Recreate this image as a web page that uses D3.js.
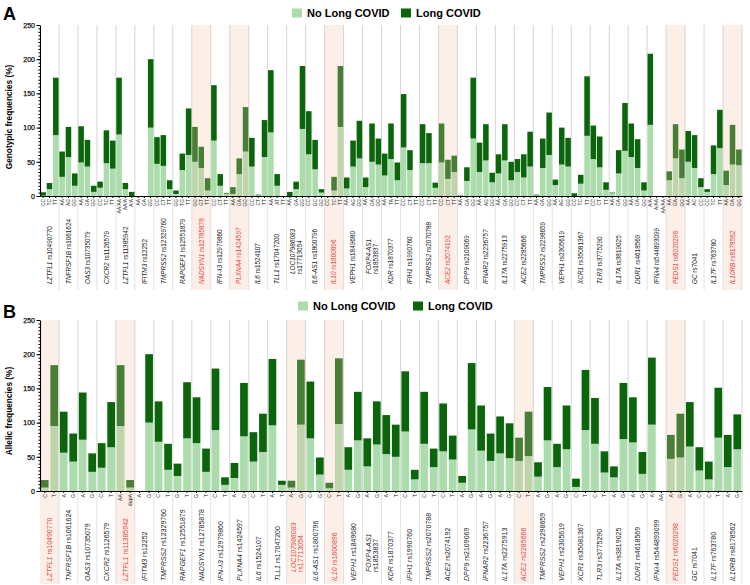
<!DOCTYPE html>
<html>
<head>
<meta charset="utf-8">
<script src="https://cdn.jsdelivr.net/npm/d3@7"></script>
<style>
  body { margin: 0; background: #fff; }
  text { font-family: "Liberation Sans", Arial, sans-serif; }
</style>
</head>
<body>
<svg id="chart" width="750" height="585"></svg>
<script>
// genes / SNPs on the x axis
const genes = ["LZTFL1","TNFRSF1B","OAS3","CXCR2","LZTFL1","IFITM3","TMPRSS2","RAPGEF1","NADSYN1","IFN-λ3",
  "PLXNA4","IL6","TLL1","LOC107986083","IL6-AS1","IL10","VEPH1","FOXP4-AS1","KDR","IFIH1",
  "TMPRSS2","ACE2","DPP9","IFNAR2","IL17A","ACE2","TMPRSS2","VEPH1","XCR1","TLR3",
  "IL17A","DDR1","IFNλ4","PEDS1","GC","IL17F","IL10RB"];
const snps = ["rs10490770","rs1061624","rs10735079","rs1126579","rs11385942","rs12252","rs12329760","rs12551879","rs12785878","rs12979860",
  "rs1424597","rs1524107","rs17047200","rs17713054","rs1800796","rs1800896","rs1849680","rs1853837","rs1870377","rs1990760",
  "rs2070788","rs2074192","rs2109069","rs2236757","rs2275913","rs2285666","rs2298659","rs2305619","rs35081367","rs3775290",
  "rs3819025","rs4618569","rs544893099","rs6020298","rs7041","rs763780","rs8178562"];
const twoLine = [13, 17];
const yTicks = [0, 50, 100, 150, 200, 250];

// panel A - genotypes
const genotypes = [["CC","TC","TT"],["AA","AG","GG"],["AA","GA","GG"],["CC","TC","TT"],["AA/AA","AA/A","A/A"],
  ["AA","GA","GG"],["CC","CT","TT"],["GG","TG","TT"],["GG","GT","TT"],["CC","CT","TT"],
  ["AA","GA","GG"],["CC","CT","TT"],["AA","AT","TT"],["AA","GA","GG"],["CC","GC","GG"],
  ["CC","TC","TT"],["AA","AG","GG"],["AA","GA","GG"],["AA","TA","TT"],["CC","CT","TT"],
  ["CC","CT","TT"],["CC","CT","TT"],["AA","GA","GG"],["AA","AG","GG"],["AA","GA","GG"],
  ["CC","CT","TT"],["AA","GA","GG"],["AA","AG","GG"],["CC","TC","TT"],["CC","CT","TT"],
  ["AA","GA","GG"],["AA","GA","GG"],["A/A","A/AA","AA/AA"],["AA","GA","GG"],["AA","AC","CC"],
  ["CC","TC","TT"],["AA","GA","GG"]];
const genoNoLong = [[0.5,10,89],[28,57,15],[49,43,6],[12,48,40],[90,10,0],[0,0,100],[47,44,10],[3,38,60],[50,41,8],[81,15,3],
  [3,32,65],[43,1,57],[93,15,0],[0,10,98],[61,39,5],[0,8,101],[11,43,55],[13,50,46],[30,54,23],[71,38,0],
  [48,48,12],[49,25,35],[1,22,84],[35,52,20],[33,52,23],[35,27,43],[1,41,60],[16,46,43],[0,18,88],[54,42,9],
  [4,33,66],[57,41,8],[104,0,0],[23,55,26],[50,41,13],[6,32,70],[16,46,45]];
const genoLong = [[5,9,84],[37,44,18],[53,39,9],[9,48,41],[83,9,6],[0,0,100],[39,45,13],[5,24,68],[51,31,18],[81,17,1],
  [10,23,65],[42,1,54],[91,17,0],[6,11,92],[63,43,5],[0,20,89],[16,38,55],[14,56,38],[32,52,26],[78,29,0],
  [57,44,7.5],[57,28,24],[0.5,20,89],[43,53,14],[28,53,27],[19,34,51],[1,43,62],[8,54,42],[4,13,87],[49,45,11],
  [1,34,70],[49,42,12],[104,0,0],[13,50,42],[45,48,13],[4,42,56],[21,58,23]];
const highlightA = [8, 10, 15, 21, 33, 36];

// panel B - alleles
const alleles = [["C","T"],["A","G"],["A","G"],["C","T"],["AA","dupA"],["A","G"],["C","T"],["G","T"],["G","T"],["C","T"],
  ["A","G"],["C","T"],["A","T"],["A","G"],["C","G"],["C","T"],["A","G"],["A","G"],["A","T"],["C","T"],
  ["C","T"],["C","T"],["A","G"],["A","G"],["A","G"],["C","T"],["A","G"],["A","G"],["C","T"],["C","T"],
  ["A","G"],["A","G"],["A","AA"],["A","G"],["A","C"],["C","T"],["A","G"]];
const alleleNoLong = [[5,95],[56,43],[75,28],[34,64],[95,5],[0,100],[72,31],[22,77],[70,28],[89,9],
  [19,80],[43,57],[96,9],[5,97],[77,24],[4,98],[31,74],[36,68],[54,50],[87,17],
  [69,35],[58,46],[12,90],[59,44],[55,48],[44,51],[21,74],[35,61],[6,89],[69,27],
  [20,76],[71,25],[97,0],[47,49],[65,30],[17,78],[35,61]];
const alleleLong = [[11,89],[60,41],[69,27],[36,66],[89,11],[0,100],[59,38],[18,82],[67,34],[90,11],
  [22,78],[43,56],[97,6],[10,95],[83,25],[8,96],[33,71],[41,63],[57,47],[88,14],
  [76,27],[70,35],[10,97],[66,40],[54,51],[34,65],[21,78],[34,64],[12,88],[67,31],
  [16,82],[66,32],[98,0],[35,64],[65,34],[26,73],[47,51]];
const highlightB = [0, 4, 13, 15, 25, 33];

const light = "#abdcab", dark = "#0b650b", red = "#e8423a";
const x0 = 40, x1 = 742;
const svg = d3.select("#chart");
const yScales = [];

function drawPanel(p) {
  const recs = [];
  genes.forEach((g, i) => p.cats[i].forEach((c, j) =>
    recs.push({ key: i + "_" + j, gi: i, cat: c, nl: p.noLong[i][j], l: p.long[i][j] })));

  const xG = d3.scaleBand().domain(d3.range(genes.length)).range([x0, x1]);
  const xB = d3.scaleBand().domain(recs.map(d => d.key)).range([x0, x1]);
  const y = d3.scaleLinear().domain([0, 250]).range([p.base, p.top]);
  yScales.push(y);
  const g = svg.append("g");

  // vertical separators, plot + label area
  g.selectAll(".grid").data(d3.range(1, genes.length + 1)).join("line")
    .attr("x1", d => xG(d - 1) + xG.bandwidth()).attr("x2", d => xG(d - 1) + xG.bandwidth())
    .attr("y1", p.top).attr("y2", p.base)
    .attr("stroke", "#cccccc").attr("stroke-width", 0.8);
  g.selectAll(".sep").data(d3.range(1, genes.length + 1)).join("line")
    .attr("x1", d => xG(d - 1) + xG.bandwidth()).attr("x2", d => xG(d - 1) + xG.bandwidth())
    .attr("y1", p.base + 1).attr("y2", p.labBottom)
    .attr("stroke", "#d6d6d6").attr("stroke-width", 0.7);

  // stacked bars
  const series = d3.stack().keys(["nl", "l"])(recs);
  const gap = p.gap;
  g.selectAll(".ser").data(series).join("g")
    .attr("fill", (d, i) => i === 0 ? light : dark)
    .selectAll("rect").data(d => d).join("rect")
    .attr("x", d => xB(d.data.key) + gap / 2)
    .attr("width", xB.bandwidth() - gap)
    .attr("y", d => y(d[1]))
    .attr("height", d => y(d[0]) - y(d[1]));

  // highlight bands
  g.selectAll(".hl").data(p.hl).join("rect")
    .attr("x", d => xG(d)).attr("width", xG.bandwidth())
    .attr("y", p.top).attr("height", p.labBottom - p.top)
    .attr("fill", "rgba(240,196,170,0.27)");

  // x axis
  const ax = g.append("g").attr("transform", `translate(0,${p.base})`)
    .call(d3.axisBottom(xB).tickSize(2).tickSizeOuter(0).tickFormat(k => recs.find(r => r.key === k).cat));
  ax.select(".domain").attr("stroke-width", 1.2);
  ax.selectAll("text")
    .attr("transform", "rotate(-90)")
    .attr("text-anchor", "end")
    .attr("x", -3).attr("y", 0).attr("dy", "0.35em")
    .attr("font-size", p.tickFont).attr("fill", "#222");

  // y axis minor ticks (every 5)
  const ay = g.append("g").attr("transform", `translate(${x0},0)`)
    .call(d3.axisLeft(y).tickValues(d3.range(0, 251, 5)).tickSize(1.6).tickSizeOuter(0).tickFormat(""));
  ay.select(".domain").attr("stroke-width", 1.1);
  ay.selectAll(".tick text").remove();

  // gene labels
  const lab = g.selectAll(".gene").data(genes).join("g")
    .attr("transform", (d, i) => `translate(${xG(i) + xG.bandwidth() / 2},${twoLine.includes(i) ? p.labY2 : p.labY}) rotate(-90)`);
  lab.each(function (d, i) {
    const col = p.hl.includes(i) ? red : "#222";
    const s = d3.select(this);
    if (twoLine.includes(i)) {
      s.append("text").attr("y", -3).attr("dy", "0.35em").attr("fill", col)
        .style("font-size", p.labFont + "px").style("font-style", "italic").text(d);
      s.append("text").attr("y", 4).attr("dy", "0.35em").attr("fill", col)
        .style("font-size", p.labFont + "px").text(snps[i]);
    } else {
      const t = s.append("text").attr("dy", "0.35em").attr("fill", col).style("font-size", p.labFont + "px");
      t.append("tspan").style("font-style", "italic").text(d);
      t.append("tspan").text(" " + snps[i]);
    }
  });

  // titles
  svg.append("text").attr("x", 3).attr("y", p.letterY).text(p.letter)
    .style("font-size", "18px").style("font-weight", "bold");
  svg.append("text").attr("transform", `translate(12,${p.titleY}) rotate(-90)`)
    .attr("text-anchor", "middle").text(p.title)
    .style("font-size", "8.3px").style("font-weight", "bold");

  // legend
  const lg = svg.append("g").attr("transform", `translate(${p.legX},${p.legY})`);
  lg.append("rect").attr("x", 0).attr("y", -4.5).attr("width", 10).attr("height", 9).attr("fill", light);
  lg.append("text").attr("x", 15).attr("dy", "0.36em").text("No Long COVID")
    .style("font-size", "11px").style("font-weight", "bold");
  lg.append("rect").attr("x", p.legX2).attr("y", -4.5).attr("width", 10).attr("height", 9).attr("fill", dark);
  lg.append("text").attr("x", p.legX2 + 15).attr("dy", "0.36em").text("Long COVID")
    .style("font-size", "11px").style("font-weight", "bold");
}

drawPanel({ cats: genotypes, noLong: genoNoLong, long: genoLong, hl: highlightA,
  top: 25, base: 196, labBottom: 290, labY: 284, labY2: 274, gap: 0.8,
  tickFont: 4.8, labFont: 6.4, letter: "A", letterY: 20, title: "Genotypic frequencies (%)", titleY: 117,
  legX: 292, legY: 13, legX2: 109 });

drawPanel({ cats: alleles, noLong: alleleNoLong, long: alleleLong, hl: highlightB,
  top: 320, base: 491, labBottom: 584, labY: 581, labY2: 572, gap: 1.8,
  tickFont: 5.2, labFont: 7, letter: "B", letterY: 318, title: "Allelic frequencies (%)", titleY: 411,
  legX: 298, legY: 306, legX2: 115 });

// major y ticks and labels
yScales.forEach(y => {
  svg.append("g").attr("transform", `translate(${x0},0)`)
    .call(d3.axisLeft(y).tickValues(yTicks).tickSize(3.5).tickPadding(1.5))
    .call(a => a.select(".domain").remove())
    .call(a => a.selectAll("text").attr("font-size", 7).attr("fill", "#111")
      .attr("stroke", "#111").attr("stroke-width", 0.25));
});
</script>
</body>
</html>
